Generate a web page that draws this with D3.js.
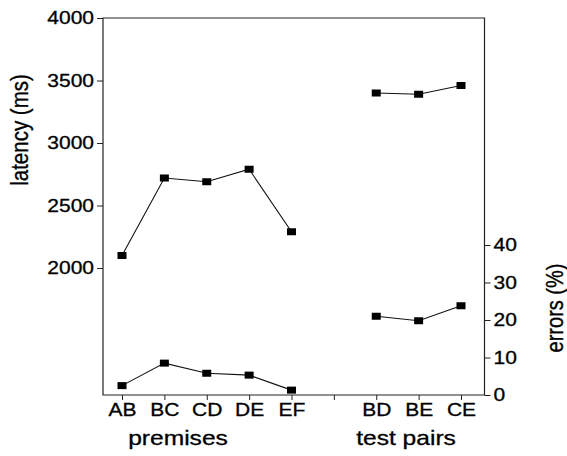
<!DOCTYPE html>
<html>
<head>
<meta charset="utf-8">
<script src="https://cdn.jsdelivr.net/npm/d3@7"></script>
<style>
  html, body { margin: 0; padding: 0; background: #fff; }
  svg text { font-family: "Liberation Sans", Arial, Helvetica, sans-serif; fill: #000; stroke: #000; stroke-width: 0.3px; }
</style>
</head>
<body>
<svg id="chart" width="567" height="456"></svg>
<script>
// ---- data ----
const categories = ["AB", "BC", "CD", "DE", "EF", "gap", "BD", "BE", "CE"];
const premises = ["AB", "BC", "CD", "DE", "EF"];
const testPairs = ["BD", "BE", "CE"];
const latencyPremises = [2100, 2720, 2690, 2790, 2290];
const latencyTest = [3400, 3390, 3460];
const errorsPremises = [2.5, 8.5, 5.8, 5.3, 1.3];
const errorsTest = [21, 19.8, 23.8];
const latencyTicks = [2000, 2500, 3000, 3500, 4000];
const errorTicks = [0, 10, 20, 30, 40];

// ---- layout ----
const boxL = 103, boxR = 484.5, boxT = 18, boxB = 395;
const svg = d3.select("#chart");

const x = d3.scalePoint().domain(categories).range([122, 461]);
const yLat = d3.scaleLinear().domain([2000, 4000]).range([268, 18]);
const yErr = d3.scaleLinear().domain([0, 40]).range([395, 245]);

const axisColor = "#222";
const SX = 1.2;

// box (axes frame)
svg.append("path")
  .attr("d", `M${boxL},${boxT}H${boxR}V${boxB}H${boxL}Z`)
  .attr("fill", "none").attr("stroke", axisColor).attr("stroke-width", 1.2);

// left axis
const gL = svg.append("g").attr("transform", `translate(${boxL},0)`)
  .call(d3.axisLeft(yLat).tickValues(latencyTicks).tickSize(6).tickPadding(3).tickFormat(d3.format("d")));
gL.select(".domain").remove();
gL.selectAll("line").attr("stroke", axisColor).attr("stroke-width", 1);
gL.selectAll("text").attr("font-size", 17.5).attr("x", -9 / SX).attr("transform", `scale(${SX},1)`);

// right axis
const gR = svg.append("g").attr("transform", `translate(${boxR},0)`)
  .call(d3.axisRight(yErr).tickValues(errorTicks).tickSize(6).tickPadding(3));
gR.select(".domain").remove();
gR.selectAll("line").attr("stroke", axisColor).attr("stroke-width", 1);
gR.selectAll("text").attr("font-size", 17.5).attr("x", 9 / SX).attr("transform", `scale(${SX},1)`);

// bottom axis
const gB = svg.append("g").attr("transform", `translate(0,${boxB})`)
  .call(d3.axisBottom(x).tickSize(5).tickPadding(4).tickFormat(d => d === "gap" ? "" : d));
gB.select(".domain").remove();
gB.selectAll("line").attr("stroke", axisColor).attr("stroke-width", 1);
gB.selectAll("text").attr("font-size", 17.5).attr("x", 0).attr("transform", `scale(${SX},1)`);

// axis titles
svg.append("text").attr("text-anchor", "middle").attr("font-size", 20.5)
  .attr("transform", `translate(178,445) scale(${SX},1)`).text("premises");
svg.append("text").attr("text-anchor", "middle").attr("font-size", 20.5)
  .attr("transform", `translate(406,445) scale(${SX},1)`).text("test pairs");
svg.append("text").attr("text-anchor", "middle").attr("font-size", 20.5)
  .attr("transform", `translate(28,130) scale(${SX},1) rotate(-90)`).text("latency (ms)");
svg.append("text").attr("text-anchor", "middle").attr("font-size", 20)
  .attr("transform", `translate(563,308) scale(${SX},1) rotate(-90)`).text("errors (%)");

// series
function drawSeries(cats, vals, yScale) {
  const pts = cats.map((c, i) => [x(c), yScale(vals[i])]);
  svg.append("path")
    .attr("d", d3.line()(pts))
    .attr("fill", "none").attr("stroke", "#111").attr("stroke-width", 1.1);
  svg.append("g").selectAll("rect").data(pts).join("rect")
    .attr("x", d => d[0] - 4.5).attr("y", d => d[1] - 3.5)
    .attr("width", 9).attr("height", 7).attr("fill", "#000");
}
drawSeries(premises, latencyPremises, yLat);
drawSeries(testPairs, latencyTest, yLat);
drawSeries(premises, errorsPremises, yErr);
drawSeries(testPairs, errorsTest, yErr);
</script>
</body>
</html>
